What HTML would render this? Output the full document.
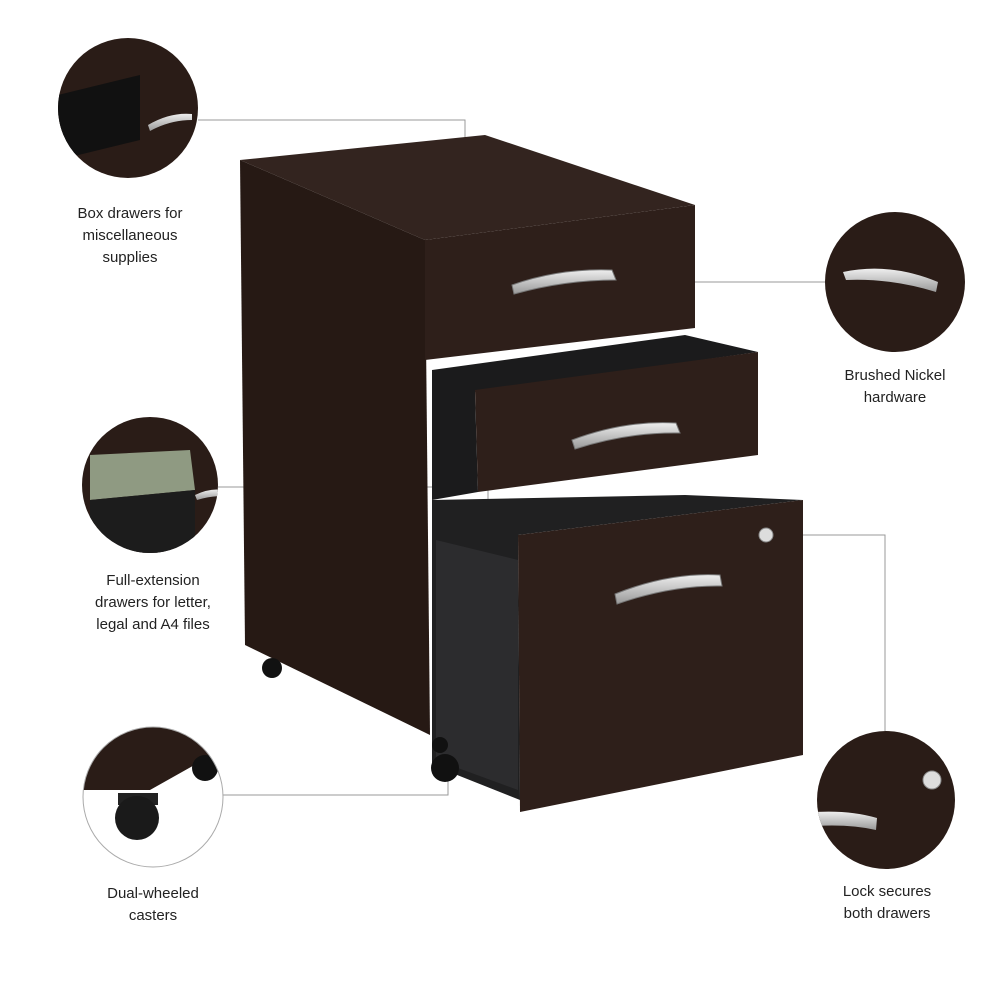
<!DOCTYPE html>
<html><head><meta charset="utf-8"><style>
html,body{margin:0;padding:0;background:#fff;}
svg{display:block}
text{font-family:"Liberation Sans",sans-serif;font-size:15px;fill:#222;text-anchor:middle}
</style></head><body>
<svg width="1000" height="1000" viewBox="0 0 1000 1000">
<defs>
<linearGradient id="h" x1="0" y1="0" x2="0" y2="1"><stop offset="0" stop-color="#eee"/><stop offset="1" stop-color="#999"/></linearGradient>
<clipPath id="c1"><circle cx="128" cy="108" r="70"/></clipPath>
<clipPath id="c2"><circle cx="895" cy="282" r="70"/></clipPath>
<clipPath id="c3"><circle cx="150" cy="485" r="68"/></clipPath>
<clipPath id="c4"><circle cx="153" cy="797" r="70"/></clipPath>
<clipPath id="c5"><circle cx="886" cy="800" r="69"/></clipPath>
</defs>
<rect width="1000" height="1000" fill="#fff"/>
<g stroke="#999" stroke-width="1" fill="none">
<polyline points="198,120 465,120 465,287"/>
<line x1="585" y1="282" x2="825" y2="282"/>
<polyline points="218,487 488,487 488,605"/>
<polyline points="223,795 448,795 448,770"/>
<polyline points="766,535 885,535 885,731"/>
</g>
<g fill="#fff" stroke="#777"><circle cx="465" cy="287" r="3"/><circle cx="488" cy="605" r="3"/><circle cx="448" cy="770" r="3"/></g>
<polygon points="240,160 485,135 695,205 425,240" fill="#33241f"/>
<polygon points="240,160 425,240 430,735 245,645" fill="#261914"/>
<polygon points="425,240 695,205 695,328 425,360" fill="#2e1f1a"/>
<polygon points="432,370 685,335 758,352 475,392 478,492 432,500" fill="#1b1b1c"/>
<polygon points="475,390 758,352 758,455 478,492" fill="#2e1f1a"/>
<polygon points="432,500 685,495 803,500 518,535 520,800 432,765" fill="#202021"/>
<polygon points="436,540 518,560 518,790 436,760" fill="#2c2c2e"/>
<polygon points="518,535 803,500 803,755 520,812" fill="#2e1f1a"/>
<circle cx="272" cy="668" r="10" fill="#111"/>
<circle cx="445" cy="768" r="14" fill="#111"/>
<circle cx="440" cy="745" r="8" fill="#111"/>
<g fill="url(#h)" stroke="#777" stroke-width="1">
<path d="M512,285 Q560,268 612,270 L616,280 Q565,280 514,294 Z"/>
<path d="M572,440 Q625,420 676,423 L680,433 Q628,432 575,449 Z"/>
<path d="M615,594 Q670,572 720,575 L722,586 Q672,585 617,604 Z"/>
</g>
<circle cx="766" cy="535" r="7" fill="#ddd" stroke="#888"/>
<g clip-path="url(#c1)"><rect x="50" y="30" width="160" height="160" fill="#2a1c17"/><polygon points="58,95 140,75 140,140 58,160" fill="#111"/><path d="M148,125 Q170,112 192,114 L192,120 Q170,120 150,131Z" fill="url(#h)"/></g>
<g clip-path="url(#c2)"><rect x="820" y="210" width="150" height="150" fill="#2a1c17"/><path d="M843,272 Q890,262 938,282 L936,292 Q890,278 846,280Z" fill="url(#h)"/></g>
<g clip-path="url(#c3)"><rect x="80" y="415" width="140" height="140" fill="#2a1c17"/><polygon points="90,455 190,450 195,490 90,500" fill="#8f9a82"/><polygon points="90,500 195,490 195,555 90,555" fill="#1c1c1c"/><path d="M195,495 Q210,488 222,490 L222,496 Q210,496 197,500Z" fill="url(#h)"/></g>
<g clip-path="url(#c4)"><rect x="80" y="725" width="150" height="150" fill="#fff"/><polygon points="80,725 230,725 230,745 150,790 80,790" fill="#2a1c17"/><circle cx="205" cy="768" r="13" fill="#111"/><rect x="118" y="793" width="40" height="12" fill="#222"/><circle cx="137" cy="818" r="22" fill="#1a1a1a"/></g>
<circle cx="153" cy="797" r="70" fill="none" stroke="#aaa" stroke-width="1"/>
<g clip-path="url(#c5)"><rect x="810" y="725" width="160" height="150" fill="#2a1c17"/><circle cx="932" cy="780" r="9" fill="#ddd" stroke="#888"/><path d="M815,812 Q850,810 877,818 L876,830 Q850,824 815,826Z" fill="url(#h)"/></g>
<text x="130" y="218">Box drawers for</text>
<text x="130" y="240">miscellaneous</text>
<text x="130" y="262">supplies</text>
<text x="895" y="380">Brushed Nickel</text>
<text x="895" y="402">hardware</text>
<text x="153" y="585">Full-extension</text>
<text x="153" y="607">drawers for letter,</text>
<text x="153" y="629">legal and A4 files</text>
<text x="153" y="898">Dual-wheeled</text>
<text x="153" y="920">casters</text>
<text x="887" y="896">Lock secures</text>
<text x="887" y="918">both drawers</text>
</svg>
</body></html>
